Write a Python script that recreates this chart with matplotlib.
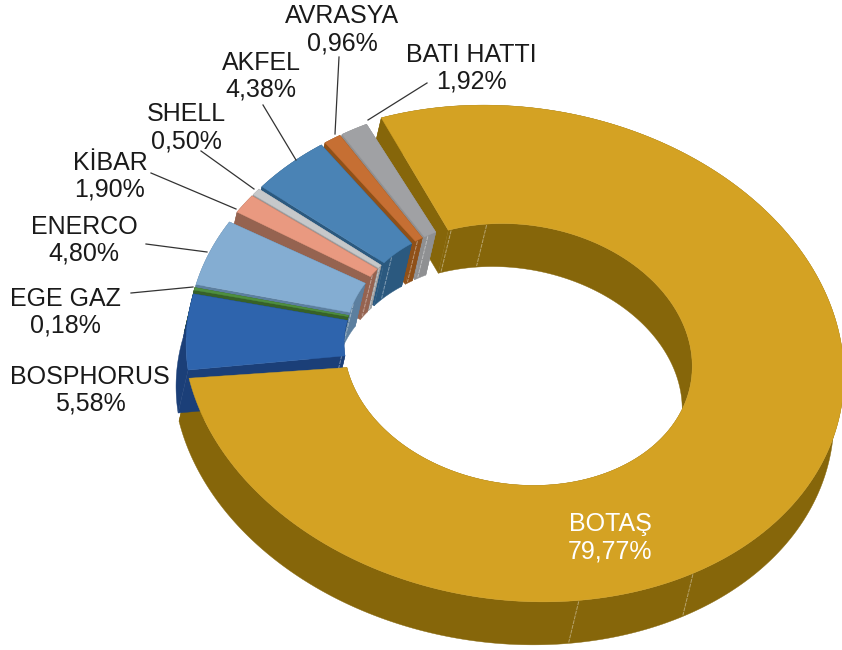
import numpy as np
import matplotlib
matplotlib.use("Agg")
import matplotlib.pyplot as plt
from matplotlib.patches import Polygon

names = ["BOTAŞ", "BOSPHORUS", "EGE GAZ", "ENERCO", "KİBAR", "SHELL", "AKFEL", "AVRASYA", "BATI HATTI"]
values = [79.77, 5.58, 0.18, 4.80, 1.90, 0.50, 4.38, 0.96, 1.92]
value_labels = ["79,77%", "5,58%", "0,18%", "4,80%", "1,90%", "0,50%", "4,38%", "0,96%", "1,92%"]

top_colors = ["#D4A223", "#2E64AD", "#4E8F3E", "#84ADD2", "#E99980", "#C6C8CA", "#4A83B5", "#C66F33", "#A0A1A4"]
wall_colors = ["#86660A", "#1B3F78", "#376128", "#5C7F9F", "#956350", "#9A9C9E", "#2B597F", "#8F5018", "#8F9092"]

# label centres and leader lines, in pixels
label_pos = [(610, 524), (90, 377), (65, 299), (84, 227), (110, 163), (186, 114), (261, 63), (342, 16), (471, 55)]
leaders = [None, None, ((131, 293), (193, 287)), ((146, 244), (207, 252)), ((151, 173), (236, 209)),
           ((201, 151), (254, 189)), ((263, 105), (296, 160)), ((339, 57), (335, 134)), ((427, 83), (368, 120))]

# "3d" view: squash of the disc and the shift of the bottom face
K = 0.76
DROP = np.array([-10, 43])
START = -24.5
BASE = (509, 344.5)
EXPLODE = 28
R_OUT, R_IN = 295, 137
# degrees cut off the two ends of a slice, the picture leaves small gaps
trim_start = [3.8, 0.5, 0, 0, 1.8, 0, 0, 0, 0]
trim_end = [0.7, 0, 0, 0, 0, 0, 0, 0, 1.5]

# the big slice has its own, slightly skewed ellipse
BIG_OUT_C = (513.5, 353.5)
BIG_IN_C = (518, 354.5)
BIG_OUT, BIG_IN = 330, 174
BIG_K = 0.752
BIG_SKEW = (0.067, 0.03)


def pt(c, r, a, k=K, skew=(0, 0)):
    a = np.radians(np.atleast_1d(a))
    sx = r * np.sin(a)
    sy = -r * np.cos(a) * k
    return np.column_stack([c[0] + sx + skew[0] * sy, c[1] + sy + skew[1] * sx])


def draw_walls(ax, c_out, c_in, r_out, r_in, a0, a1, wall, seams, k=K, skew=(0, 0)):
    ang = np.linspace(a0, a1, max(int((a1 - a0) * 2), 3))
    outer = pt(c_out, r_out, ang, k, skew)
    inner = pt(c_in, r_in, ang, k, skew)

    # inner wall, end caps, outer wall
    ax.add_patch(Polygon(np.vstack([inner, (inner + DROP)[::-1]]), fc=wall, ec=wall, lw=0.3))
    for i in (0, -1):
        p = np.vstack([inner[i], outer[i]])
        ax.add_patch(Polygon(np.vstack([p, (p + DROP)[::-1]]), fc=wall, ec=wall, lw=0.3))
    ax.add_patch(Polygon(np.vstack([outer, (outer + DROP)[::-1]]), fc=wall, ec=wall, lw=0.3))

    # seams as patches too, so the later tops can cover them
    for is_out, a in seams:
        p = pt(c_out, r_out, a, k, skew) if is_out else pt(c_in, r_in, a, k, skew)
        seam = np.vstack([p[0] + [0, 1], p[0] + DROP - [0, 1]])
        ax.add_patch(Polygon(seam, closed=False, fill=False, ec="#FFFFFF", alpha=0.4, lw=0.7, ls=(0, (4, 1))))


def draw_top(ax, c_out, c_in, r_out, r_in, a0, a1, top, k=K, skew=(0, 0)):
    ang = np.linspace(a0, a1, max(int((a1 - a0) * 2), 3))
    outer = pt(c_out, r_out, ang, k, skew)
    inner = pt(c_in, r_in, ang, k, skew)
    ax.add_patch(Polygon(np.vstack([outer, inner[::-1]]), fc=top, ec=top, lw=0.3))


fig = plt.figure(figsize=(8.42, 6.5), dpi=100)
ax = fig.add_axes([0, 0, 1, 1])
ax.set_xlim(0, 842)
ax.set_ylim(650, 0)
ax.axis("off")

sizes = np.array(values) / sum(values) * 360
ends = START + np.cumsum(sizes)
starts = ends - sizes

# walls of the big slice go under the small ones, its top goes over them
big_a0 = starts[0] + trim_start[0]
big_a1 = ends[0] - trim_end[0]
big_seams = [(False, big_a0 + 1), (False, -7.5), (True, 150), (True, 171.5)]
draw_walls(ax, BIG_OUT_C, BIG_IN_C, BIG_OUT, BIG_IN, big_a0, big_a1, wall_colors[0], big_seams, BIG_K, BIG_SKEW)

for i in range(len(values) - 1, 0, -1):
    mid = np.radians((starts[i] + ends[i]) / 2)
    c = (BASE[0] + EXPLODE * np.sin(mid), BASE[1] - EXPLODE * np.cos(mid) * K)
    a0 = starts[i] + trim_start[i]
    a1 = ends[i] - trim_end[i]
    seams = [(False, a0 + (a1 - a0) * 0.3)] if values[i] > 0.4 else []
    draw_walls(ax, c, c, R_OUT, R_IN, a0, a1, wall_colors[i], seams)
    draw_top(ax, c, c, R_OUT, R_IN, a0, a1, top_colors[i])

draw_top(ax, BIG_OUT_C, BIG_IN_C, BIG_OUT, BIG_IN, big_a0, big_a1, top_colors[0], BIG_K, BIG_SKEW)

for i in range(len(names)):
    x, y = label_pos[i]
    col = "white" if i == 0 else "#1A1A1A"
    ax.text(x, y, names[i], ha="center", va="center", fontsize=18, color=col, family="Liberation Sans")
    ax.text(x, y + 27, value_labels[i], ha="center", va="center", fontsize=18, color=col, family="Liberation Sans")
    if leaders[i]:
        (x0, y0), (x1, y1) = leaders[i]
        ax.plot([x0, x1], [y0, y1], color="#333333", lw=0.9)

fig.savefig("out.png", dpi=100)
